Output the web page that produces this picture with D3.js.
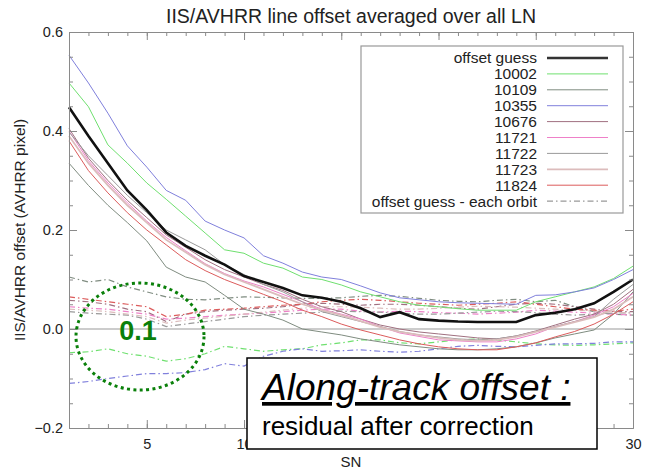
<!DOCTYPE html>
<html>
<head>
<meta charset="utf-8">
<script src="https://cdn.jsdelivr.net/npm/d3@7"></script>
<style>
  body { margin: 0; background: #fff; }
  text { font-family: "Liberation Sans", Arial, sans-serif; }
</style>
</head>
<body>
<div id="chart"></div>
<script>
var width = 646,
    height = 469;

// scan numbers
var sn = d3.range(1, 31);

// averaged offset (solid lines)
var guess  = [0.448,0.39,0.335,0.28,0.24,0.195,0.168,0.148,0.13,0.107,0.095,0.083,0.068,0.063,0.055,0.042,0.024,0.034,0.02,0.017,0.015,0.014,0.014,0.014,0.028,0.033,0.04,0.052,0.075,0.1];
var o10002 = [0.497,0.449,0.372,0.335,0.295,0.262,0.228,0.194,0.16,0.153,0.133,0.123,0.105,0.1,0.089,0.075,0.065,0.055,0.048,0.045,0.041,0.038,0.038,0.038,0.055,0.065,0.075,0.085,0.102,0.127];
var o10109 = [0.335,0.29,0.25,0.215,0.178,0.125,0.105,0.095,0.068,0.04,0.03,0.018,0.0,-0.006,-0.012,-0.02,-0.026,-0.032,-0.036,-0.04,-0.042,-0.042,-0.04,-0.036,-0.028,-0.018,-0.01,-0.002,0.03,0.075];
var o10355 = [0.553,0.497,0.436,0.37,0.327,0.28,0.26,0.218,0.2,0.184,0.148,0.133,0.115,0.105,0.1,0.087,0.073,0.063,0.059,0.055,0.053,0.052,0.051,0.05,0.068,0.069,0.075,0.083,0.1,0.12];
var o10676 = [0.405,0.345,0.30,0.26,0.225,0.19,0.165,0.14,0.12,0.105,0.09,0.078,0.06,0.045,0.035,0.02,0.008,0.0,-0.006,-0.01,-0.014,-0.018,-0.02,-0.014,-0.004,0.008,0.02,0.03,0.05,0.08];
var o11721 = [0.40,0.34,0.295,0.255,0.218,0.185,0.158,0.132,0.112,0.097,0.085,0.07,0.055,0.04,0.03,0.02,0.005,-0.008,-0.015,-0.022,-0.024,-0.026,-0.026,-0.02,-0.01,0.005,0.015,0.028,0.045,0.072];
var o11722 = [0.398,0.35,0.31,0.27,0.235,0.2,0.18,0.16,0.13,0.11,0.09,0.075,0.055,0.035,0.025,0.015,0.005,-0.005,-0.012,-0.016,-0.02,-0.022,-0.02,-0.014,-0.005,0.005,0.015,0.025,0.06,0.09];
var o11723 = [0.39,0.335,0.29,0.25,0.215,0.18,0.155,0.13,0.11,0.095,0.08,0.065,0.05,0.038,0.028,0.016,0.004,-0.006,-0.012,-0.018,-0.022,-0.024,-0.022,-0.016,-0.006,0.004,0.014,0.024,0.04,0.065];
var o11824 = [0.38,0.32,0.275,0.235,0.2,0.17,0.14,0.118,0.1,0.085,0.07,0.055,0.038,0.025,0.01,-0.002,-0.012,-0.022,-0.03,-0.036,-0.04,-0.042,-0.042,-0.036,-0.028,-0.016,-0.005,0.01,0.03,0.055];

// offset guess - each orbit (dash-dot lines)
var e10002 = [-0.048,-0.046,-0.04,-0.05,-0.055,-0.065,-0.06,-0.05,-0.035,-0.04,-0.045,-0.042,-0.04,-0.032,-0.028,-0.022,-0.022,-0.028,-0.03,-0.026,-0.022,-0.02,-0.022,-0.026,-0.03,-0.032,-0.033,-0.032,-0.03,-0.028];
var e10109 = [0.105,0.095,0.1,0.085,0.075,0.065,0.06,0.059,0.062,0.065,0.064,0.063,0.062,0.062,0.063,0.066,0.068,0.066,0.062,0.058,0.056,0.055,0.058,0.06,0.055,0.058,0.045,0.035,0.03,0.028];
var e10355 = [-0.11,-0.106,-0.1,-0.095,-0.09,-0.09,-0.088,-0.082,-0.07,-0.075,-0.055,-0.045,-0.04,-0.045,-0.044,-0.042,-0.045,-0.047,-0.045,-0.04,-0.035,-0.033,-0.035,-0.036,-0.033,-0.03,-0.03,-0.029,-0.026,-0.026];
var e10676 = [0.058,0.055,0.05,0.04,0.035,0.015,0.03,0.035,0.038,0.04,0.042,0.045,0.05,0.052,0.05,0.048,0.05,0.05,0.048,0.045,0.042,0.04,0.045,0.05,0.052,0.05,0.045,0.04,0.035,0.035];
var e11721 = [0.045,0.042,0.04,0.035,0.03,0.02,0.022,0.025,0.028,0.03,0.032,0.035,0.038,0.04,0.04,0.036,0.034,0.036,0.035,0.033,0.032,0.03,0.032,0.034,0.038,0.036,0.034,0.032,0.03,0.028];
var e11722 = [0.035,0.032,0.03,0.028,0.02,0.005,0.01,0.015,0.02,0.025,0.028,0.03,0.032,0.034,0.036,0.035,0.034,0.032,0.03,0.03,0.032,0.034,0.036,0.035,0.033,0.03,0.028,0.03,0.032,0.033];
var e11723 = [0.04,0.038,0.035,0.03,0.025,0.012,0.018,0.022,0.026,0.03,0.034,0.038,0.042,0.045,0.045,0.044,0.042,0.04,0.04,0.042,0.044,0.046,0.045,0.044,0.042,0.04,0.038,0.036,0.034,0.032];
var e11824 = [0.065,0.06,0.055,0.05,0.045,0.025,0.03,0.038,0.04,0.042,0.045,0.048,0.05,0.055,0.058,0.06,0.058,0.055,0.052,0.05,0.048,0.05,0.052,0.055,0.05,0.045,0.04,0.038,0.036,0.04];

var legendLabels = ["offset guess","10002","10109","10355","10676","11721","11722","11723","11824","offset guess - each orbit"];
var xTickLabels = [5, 10, 15, 20, 25, 30];
var yTickLabels = [-0.2, 0.0, 0.2, 0.4, 0.6];

var orbits = [
  {name:"10002", color:"#6fe06f", w:1,   solid:o10002, each:e10002},
  {name:"10109", color:"#7f8c80", w:1,   solid:o10109, each:e10109},
  {name:"10355", color:"#8080dc", w:1,   solid:o10355, each:e10355},
  {name:"10676", color:"#a07080", w:1,   solid:o10676, each:e10676},
  {name:"11721", color:"#ee80c8", w:1,   solid:o11721, each:e11721},
  {name:"11722", color:"#9a9a9a", w:1,   solid:o11722, each:e11722},
  {name:"11723", color:"#dcbcbc", w:1.8, solid:o11723, each:e11723},
  {name:"11824", color:"#dc5c5c", w:1,   solid:o11824, each:e11824}
];

var svg = d3.select("#chart").append("svg")
  .attr("width", width)
  .attr("height", height);

var x = d3.scaleLinear().domain([1, 30]).range([69, 633]);
var y = d3.scaleLinear().domain([-0.2, 0.6]).range([428, 32]);

var line = d3.line()
  .x(function(d, i) { return x(sn[i]); })
  .y(function(d) { return y(d); });

var dashDot = "6,3,1.5,3";

// zero line
svg.append("line")
  .attr("x1", x(1)).attr("x2", x(30))
  .attr("y1", y(0)).attr("y2", y(0))
  .style("stroke", "#999").style("stroke-width", 1.2);

// each orbit guesses
svg.append("g").selectAll("path")
  .data(orbits)
  .enter().append("path")
  .attr("d", function(d) { return line(d.each); })
  .style("fill", "none")
  .style("stroke", function(d) { return d.color; })
  .style("stroke-width", 1.2)
  .style("stroke-dasharray", dashDot);

// averaged per orbit
svg.append("g").selectAll("path")
  .data(orbits)
  .enter().append("path")
  .attr("d", function(d) { return line(d.solid); })
  .style("fill", "none")
  .style("stroke", function(d) { return d.color; })
  .style("stroke-width", function(d) { return d.w; });

// offset guess
svg.append("path")
  .attr("d", line(guess))
  .style("fill", "none")
  .style("stroke", "#111")
  .style("stroke-width", 2.6);

// axes (ticks inward, on all four sides)
var axisColor = "#8a8a8a";
function styleAxis(g) {
  g.select(".domain").style("stroke", axisColor);
  g.selectAll(".tick line").style("stroke", axisColor);
  g.selectAll(".tick text").style("fill", "#222").style("font-size", "14.5px")
    .style("font-family", '"Liberation Sans", Arial, sans-serif');
}

svg.append("g").attr("transform", "translate(0," + y(-0.2) + ")")
  .call(d3.axisBottom(x).tickValues(sn).tickSize(-4).tickSizeOuter(0).tickFormat(""))
  .call(styleAxis);
svg.append("g").attr("transform", "translate(0," + y(-0.2) + ")")
  .call(d3.axisBottom(x).tickValues(xTickLabels).tickSize(-8).tickSizeOuter(0).tickPadding(11))
  .call(styleAxis);
svg.append("g").attr("transform", "translate(0," + y(0.6) + ")")
  .call(d3.axisTop(x).tickValues(sn).tickSize(-4).tickSizeOuter(0).tickFormat(""))
  .call(styleAxis);
svg.append("g").attr("transform", "translate(0," + y(0.6) + ")")
  .call(d3.axisTop(x).tickValues(xTickLabels).tickSize(-8).tickSizeOuter(0).tickFormat(""))
  .call(styleAxis);

var yMinor = d3.range(-0.2, 0.6001, 0.05);
svg.append("g").attr("transform", "translate(" + x(1) + ",0)")
  .call(d3.axisLeft(y).tickValues(yMinor).tickSize(-4).tickSizeOuter(0).tickFormat(""))
  .call(styleAxis);
svg.append("g").attr("transform", "translate(" + x(1) + ",0)")
  .call(d3.axisLeft(y).tickValues(yTickLabels).tickSize(-8).tickSizeOuter(0).tickPadding(6).tickFormat(d3.format(".1f")))
  .call(styleAxis);
svg.append("g").attr("transform", "translate(" + x(30) + ",0)")
  .call(d3.axisRight(y).tickValues(yMinor).tickSize(-4).tickSizeOuter(0).tickFormat(""))
  .call(styleAxis);
svg.append("g").attr("transform", "translate(" + x(30) + ",0)")
  .call(d3.axisRight(y).tickValues(yTickLabels).tickSize(-8).tickSizeOuter(0).tickFormat(""))
  .call(styleAxis);

// title and axis labels
svg.append("text")
  .attr("x", 351).attr("y", 23)
  .attr("text-anchor", "middle")
  .style("font-size", "19.5px").style("fill", "#222")
  .text("IIS/AVHRR line offset averaged over all LN");

svg.append("text")
  .attr("x", 351).attr("y", 467)
  .attr("text-anchor", "middle")
  .style("font-size", "15px").style("fill", "#222")
  .text("SN");

svg.append("text")
  .attr("transform", "translate(25,230) rotate(-90)")
  .attr("text-anchor", "middle")
  .style("font-size", "15.5px").style("fill", "#222")
  .text("IIS/AVHRR offset (AVHRR pixel)");

// legend
var leg = svg.append("g");
leg.append("rect")
  .attr("x", 361).attr("y", 46)
  .attr("width", 262).attr("height", 167)
  .style("fill", "#fff").style("stroke", "#999").style("stroke-width", 1.2);

var legItems = legendLabels.map(function(lab, i) {
  if (i === 0) return {label: lab, color: "#333", w: 2.6, dash: null};
  if (i === legendLabels.length - 1) return {label: lab, color: "#999", w: 1.2, dash: dashDot};
  var o = orbits[i - 1];
  return {label: lab, color: o.color, w: o.w, dash: null};
});

var rows = leg.selectAll("g.row")
  .data(legItems)
  .enter().append("g")
  .attr("transform", function(d, i) { return "translate(0," + (58 + i * 15.9) + ")"; });

rows.append("text")
  .attr("x", 537).attr("dy", "0.35em")
  .attr("text-anchor", "end")
  .style("font-size", "15.5px").style("fill", "#222")
  .text(function(d) { return d.label; });

rows.append("line")
  .attr("x1", 547).attr("x2", 608)
  .style("stroke", function(d) { return d.color; })
  .style("stroke-width", function(d) { return d.w; })
  .style("stroke-dasharray", function(d) { return d.dash; });

// highlight of the 0.1 spread
svg.append("ellipse")
  .attr("cx", 140).attr("cy", 336.5)
  .attr("rx", 64).attr("ry", 53.5)
  .style("fill", "none")
  .style("stroke", "#0a800a")
  .style("stroke-width", 3)
  .style("stroke-dasharray", "3,3.4");

svg.append("text")
  .attr("x", 138).attr("y", 340)
  .attr("text-anchor", "middle")
  .style("font-size", "27px").style("font-weight", "bold").style("fill", "#0a800a")
  .text("0.1");

// annotation box
svg.append("rect")
  .attr("x", 247).attr("y", 358)
  .attr("width", 350).attr("height", 91)
  .style("fill", "#fff").style("stroke", "#000").style("stroke-width", 1.5);

svg.append("text")
  .attr("x", 262).attr("y", 400)
  .style("font-size", "37px").style("font-style", "italic")
  .style("text-decoration", "underline").style("fill", "#000")
  .text("Along-track offset :");

svg.append("text")
  .attr("x", 262).attr("y", 435)
  .style("font-size", "26px").style("fill", "#000")
  .text("residual after correction");
</script>
</body>
</html>
